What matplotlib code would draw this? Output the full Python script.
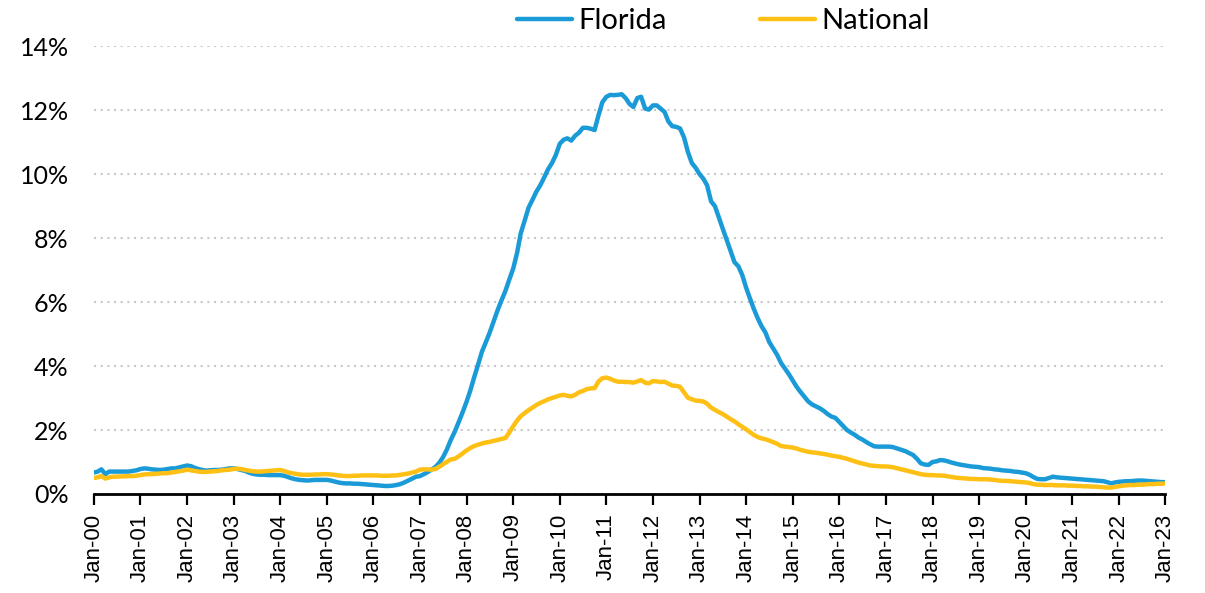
import matplotlib.pyplot as plt
import matplotlib.dates as mdates
import pandas as pd

# monthly delinquency share, Jan-2000 .. Jan-2023 (in %)
florida = [
    0.67, 0.70, 0.77, 0.62, 0.70, 0.70, 0.70, 0.70, 0.70, 0.70, 0.72, 0.74,  # 2000
    0.78, 0.80, 0.79, 0.77, 0.76, 0.75, 0.76, 0.78, 0.80, 0.80, 0.83, 0.86,  # 2001
    0.89, 0.87, 0.82, 0.78, 0.75, 0.73, 0.74, 0.75, 0.75, 0.76, 0.78, 0.80,  # 2002
    0.80, 0.78, 0.75, 0.72, 0.67, 0.63, 0.61, 0.60, 0.60, 0.59, 0.59, 0.59,  # 2003
    0.59, 0.57, 0.53, 0.49, 0.46, 0.44, 0.43, 0.42, 0.43, 0.44, 0.44, 0.44,  # 2004
    0.44, 0.42, 0.39, 0.36, 0.34, 0.33, 0.33, 0.32, 0.32, 0.31, 0.30, 0.29,  # 2005
    0.28, 0.27, 0.26, 0.25, 0.25, 0.26, 0.28, 0.31, 0.36, 0.42, 0.48, 0.54,  # 2006
    0.56, 0.62, 0.68, 0.76, 0.84, 0.97, 1.15, 1.40, 1.70, 1.95, 2.25, 2.55,  # 2007
    2.88, 3.25, 3.65, 4.05, 4.45, 4.75, 5.05, 5.40, 5.75, 6.05, 6.35, 6.70,  # 2008
    7.05, 7.55, 8.15, 8.55, 8.95, 9.20, 9.45, 9.65, 9.90, 10.15, 10.35, 10.60,  # 2009
    10.95, 11.08, 11.12, 11.05, 11.20, 11.30, 11.45, 11.45, 11.42, 11.38, 11.85, 12.25,  # 2010
    12.42, 12.48, 12.47, 12.48, 12.50, 12.38, 12.20, 12.10, 12.38, 12.42, 12.05, 12.02,  # 2011
    12.15, 12.15, 12.05, 11.95, 11.65, 11.50, 11.48, 11.43, 11.15, 10.70, 10.35, 10.20,  # 2012
    10.00, 9.85, 9.65, 9.15, 9.00, 8.65, 8.30, 7.95, 7.60, 7.25, 7.12, 6.85,  # 2013
    6.45, 6.10, 5.80, 5.50, 5.25, 5.05, 4.75, 4.55, 4.35, 4.10, 3.92, 3.75,  # 2014
    3.55, 3.35, 3.20, 3.05, 2.90, 2.80, 2.74, 2.68, 2.60, 2.50, 2.42, 2.38,  # 2015
    2.25, 2.12, 2.00, 1.92, 1.85, 1.76, 1.70, 1.62, 1.55, 1.49, 1.48, 1.48,  # 2016
    1.48, 1.48, 1.46, 1.42, 1.38, 1.34, 1.28, 1.22, 1.10, 0.96, 0.92, 0.91,  # 2017
    1.00, 1.02, 1.06, 1.05, 1.02, 0.98, 0.95, 0.92, 0.90, 0.88, 0.86, 0.85,  # 2018
    0.84, 0.81, 0.80, 0.79, 0.77, 0.76, 0.74, 0.73, 0.72, 0.70, 0.69, 0.67,  # 2019
    0.65, 0.60, 0.53, 0.47, 0.46, 0.46, 0.50, 0.54, 0.52, 0.51, 0.50, 0.49,  # 2020
    0.48, 0.47, 0.46, 0.45, 0.44, 0.43, 0.42, 0.41, 0.40, 0.37, 0.33, 0.36,  # 2021
    0.38, 0.39, 0.40, 0.40, 0.41, 0.42, 0.42, 0.41, 0.40, 0.39, 0.38, 0.37,  # 2022
    0.37,  # Jan-2023
]

national = [
    0.50, 0.52, 0.56, 0.48, 0.52, 0.54, 0.54, 0.55, 0.55, 0.56, 0.56, 0.57,  # 2000
    0.59, 0.61, 0.62, 0.62, 0.63, 0.64, 0.65, 0.65, 0.67, 0.69, 0.71, 0.73,  # 2001
    0.76, 0.74, 0.72, 0.70, 0.69, 0.69, 0.70, 0.71, 0.72, 0.74, 0.75, 0.76,  # 2002
    0.78, 0.79, 0.78, 0.75, 0.73, 0.71, 0.70, 0.70, 0.71, 0.72, 0.73, 0.74,  # 2003
    0.75, 0.72, 0.68, 0.65, 0.63, 0.61, 0.60, 0.60, 0.60, 0.61, 0.61, 0.62,  # 2004
    0.62, 0.61, 0.60, 0.58, 0.57, 0.56, 0.56, 0.57, 0.57, 0.58, 0.58, 0.58,  # 2005
    0.58, 0.58, 0.57, 0.57, 0.57, 0.58, 0.58, 0.60, 0.62, 0.64, 0.67, 0.70,  # 2006
    0.76, 0.77, 0.77, 0.76, 0.78, 0.85, 0.93, 1.01, 1.08, 1.10, 1.18, 1.27,  # 2007
    1.36, 1.44, 1.50, 1.54, 1.58, 1.61, 1.63, 1.66, 1.69, 1.72, 1.75, 1.92,  # 2008
    2.12, 2.30, 2.43, 2.53, 2.62, 2.70, 2.78, 2.85, 2.90, 2.96, 3.00, 3.04,  # 2009
    3.08, 3.10, 3.07, 3.05, 3.10, 3.18, 3.22, 3.28, 3.30, 3.31, 3.52, 3.62,  # 2010
    3.64, 3.60, 3.55, 3.51, 3.51, 3.50, 3.50, 3.48, 3.52, 3.56, 3.48, 3.46,  # 2011
    3.53, 3.52, 3.50, 3.51, 3.45, 3.39, 3.38, 3.35, 3.18, 3.01, 2.96, 2.92,  # 2012
    2.91, 2.89, 2.82, 2.70, 2.63, 2.56, 2.50, 2.42, 2.34, 2.27, 2.18, 2.10,  # 2013
    2.02, 1.93, 1.85, 1.78, 1.74, 1.71, 1.67, 1.62, 1.57, 1.50, 1.48, 1.47,  # 2014
    1.45, 1.42, 1.38, 1.35, 1.32, 1.30, 1.29, 1.27, 1.25, 1.23, 1.20, 1.18,  # 2015
    1.16, 1.13, 1.10, 1.06, 1.02, 0.98, 0.95, 0.92, 0.89, 0.88, 0.87, 0.86,  # 2016
    0.86, 0.85, 0.83, 0.80, 0.77, 0.74, 0.71, 0.68, 0.65, 0.62, 0.60, 0.59,  # 2017
    0.59, 0.58, 0.58, 0.57, 0.55, 0.53, 0.51, 0.50, 0.49, 0.48, 0.47, 0.47,  # 2018
    0.46, 0.46, 0.46, 0.45, 0.44, 0.42, 0.41, 0.41, 0.40, 0.39, 0.38, 0.37,  # 2019
    0.36, 0.34, 0.31, 0.29, 0.29, 0.28, 0.28, 0.28, 0.27, 0.27, 0.27, 0.26,  # 2020
    0.26, 0.25, 0.25, 0.24, 0.24, 0.23, 0.23, 0.22, 0.21, 0.20, 0.20, 0.22,  # 2021
    0.24, 0.26, 0.27, 0.28, 0.28, 0.29, 0.29, 0.30, 0.31, 0.31, 0.32, 0.32,  # 2022
    0.33,  # Jan-2023
]

months = pd.date_range("2000-01-01", periods=len(florida), freq="MS")
y_ticks = [0, 2, 4, 6, 8, 10, 12, 14]

fig = plt.figure(figsize=(12.05, 5.93), dpi=100)
ax = fig.add_axes([0.0778, 0.167, 0.8894, 0.755])

ax.plot(months, florida, color="#1a9bd7", lw=3.2, label="Florida", solid_capstyle="round")
ax.plot(months, national, color="#fec014", lw=3.2, label="National", solid_capstyle="round")

ax.set_xlim(months[0], months[-1])
ax.set_ylim(0, 14)
ax.set_yticks(y_ticks)
ax.set_yticklabels([f"{t}%" for t in y_ticks], family="Lato", fontsize=18)
ax.tick_params(axis="y", length=0, pad=18)

ax.xaxis.set_major_locator(mdates.YearLocator())
ax.xaxis.set_major_formatter(mdates.DateFormatter("%b-%y"))
ax.tick_params(axis="x", direction="out", length=8, width=1.6, pad=6)
for lab in ax.get_xticklabels():
    lab.set_rotation(90)
    lab.set_family("Liberation Sans")
    lab.set_fontsize(16)

ax.grid(axis="y", color="#c8c8c8", ls=(0, (1, 2.2)), lw=1.5)
ax.set_axisbelow(True)
for s in ["top", "right", "left"]:
    ax.spines[s].set_visible(False)
ax.spines["bottom"].set_linewidth(2)

fig.legend(loc="center", bbox_to_anchor=(0.6, 0.965), ncol=2, frameon=False,
           prop={"family": "Lato", "size": 21}, handlelength=1.9,
           handletextpad=0.2, columnspacing=3.2)

fig.savefig("out.png", dpi=100)
